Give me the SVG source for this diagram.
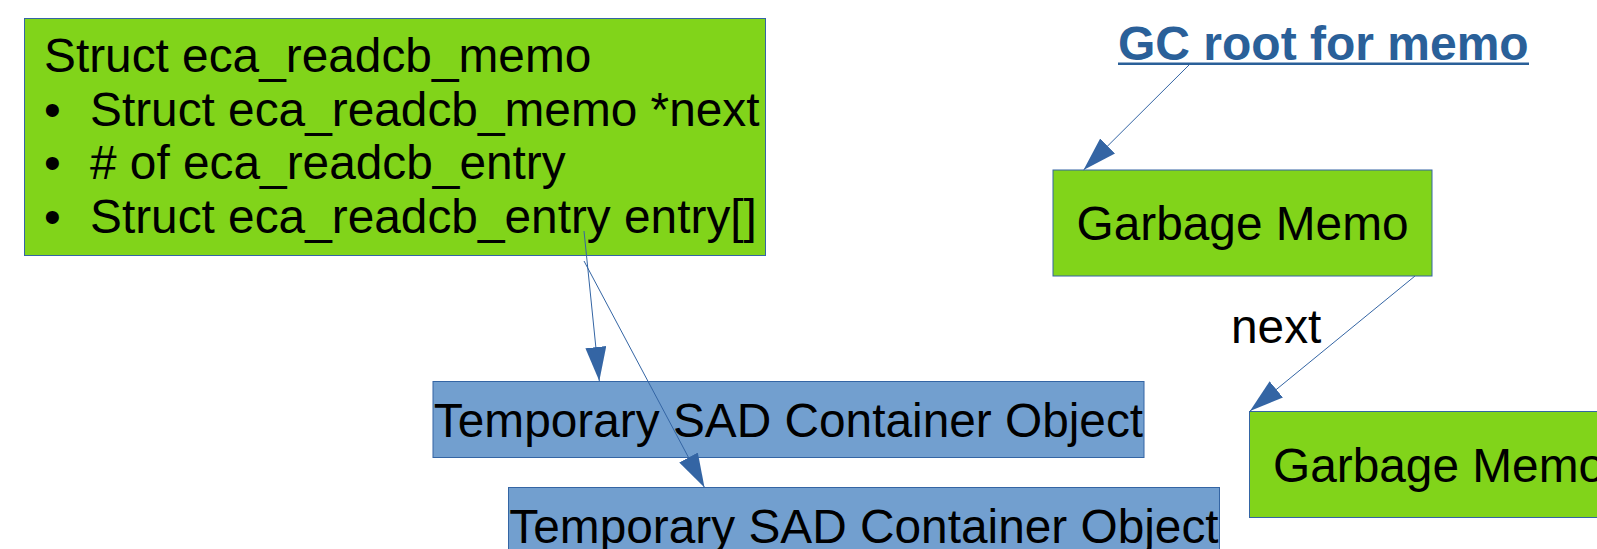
<svg xmlns="http://www.w3.org/2000/svg" width="1597" height="549" viewBox="0 0 1597 549">
  <style>
    .green { fill: #81d41a; stroke: #3465a4; stroke-width: 1; }
    .blue { fill: #729fcf; stroke: #3465a4; stroke-width: 1; }
    .t { font-family: "Liberation Sans", Arial, sans-serif; font-size: 47.8px; fill: #000000; }
    .link { font-family: "Liberation Sans", Arial, sans-serif; font-size: 48px; font-weight: bold; fill: #2a6099; }
    .conn { stroke: #3465a4; stroke-width: 1; fill: none; }
  </style>
  <defs>
    <marker id="arrow" markerUnits="userSpaceOnUse" markerWidth="36" markerHeight="24" refX="34" refY="10.5" orient="auto" viewBox="0 0 36 24">
      <path d="M0,0 L34,10.5 L0,21 z" fill="#3465a4"/>
    </marker>
  </defs>

  <g id="memo-struct">
    <rect class="green" x="24.5" y="18.5" width="741" height="237"/>
    <text class="t" x="44" y="72">Struct eca_readcb_memo</text>
    <text class="t" x="44" y="126">•</text>
    <text class="t" x="90" y="126">Struct eca_readcb_memo *next</text>
    <text class="t" x="44" y="179">•</text>
    <text class="t" x="90" y="179"># of eca_readcb_entry</text>
    <text class="t" x="44" y="232.5">•</text>
    <text class="t" x="90" y="232.5">Struct eca_readcb_entry entry[]</text>
  </g>

  <g id="gc-root">
    <text class="link" x="1118" y="60">GC root for memo</text>
    <rect x="1118" y="62.5" width="411" height="2.5" fill="#2a6099"/>
  </g>

  <g id="garbage-memo-1">
    <rect class="green" x="1053" y="170" width="379" height="106"/>
    <text class="t" x="1242.5" y="240" text-anchor="middle">Garbage Memo</text>
  </g>

  <g id="garbage-memo-2">
    <rect class="green" x="1249.5" y="411.5" width="379" height="106"/>
    <text class="t" x="1439" y="482" text-anchor="middle">Garbage Memo</text>
  </g>

  <g id="temp-sad-1">
    <rect class="blue" x="433" y="381.5" width="711" height="76"/>
    <text class="t" x="788.5" y="437" text-anchor="middle">Temporary SAD Container Object</text>
  </g>

  <g id="temp-sad-2">
    <rect class="blue" x="508.5" y="487.5" width="711" height="76"/>
    <text class="t" x="864" y="543" text-anchor="middle">Temporary SAD Container Object</text>
  </g>

  <g id="connectors">
    <line class="conn" x1="584" y1="231" x2="599.3" y2="381" marker-end="url(#arrow)"/>
    <line class="conn" x1="584" y1="261" x2="704.5" y2="487.5" marker-end="url(#arrow)"/>
    <line class="conn" x1="1189" y1="65" x2="1083.5" y2="170" marker-end="url(#arrow)"/>
    <line class="conn" x1="1415" y1="276" x2="1250" y2="411" marker-end="url(#arrow)"/>
    <text class="t" x="1231" y="343">next</text>
  </g>
</svg>
